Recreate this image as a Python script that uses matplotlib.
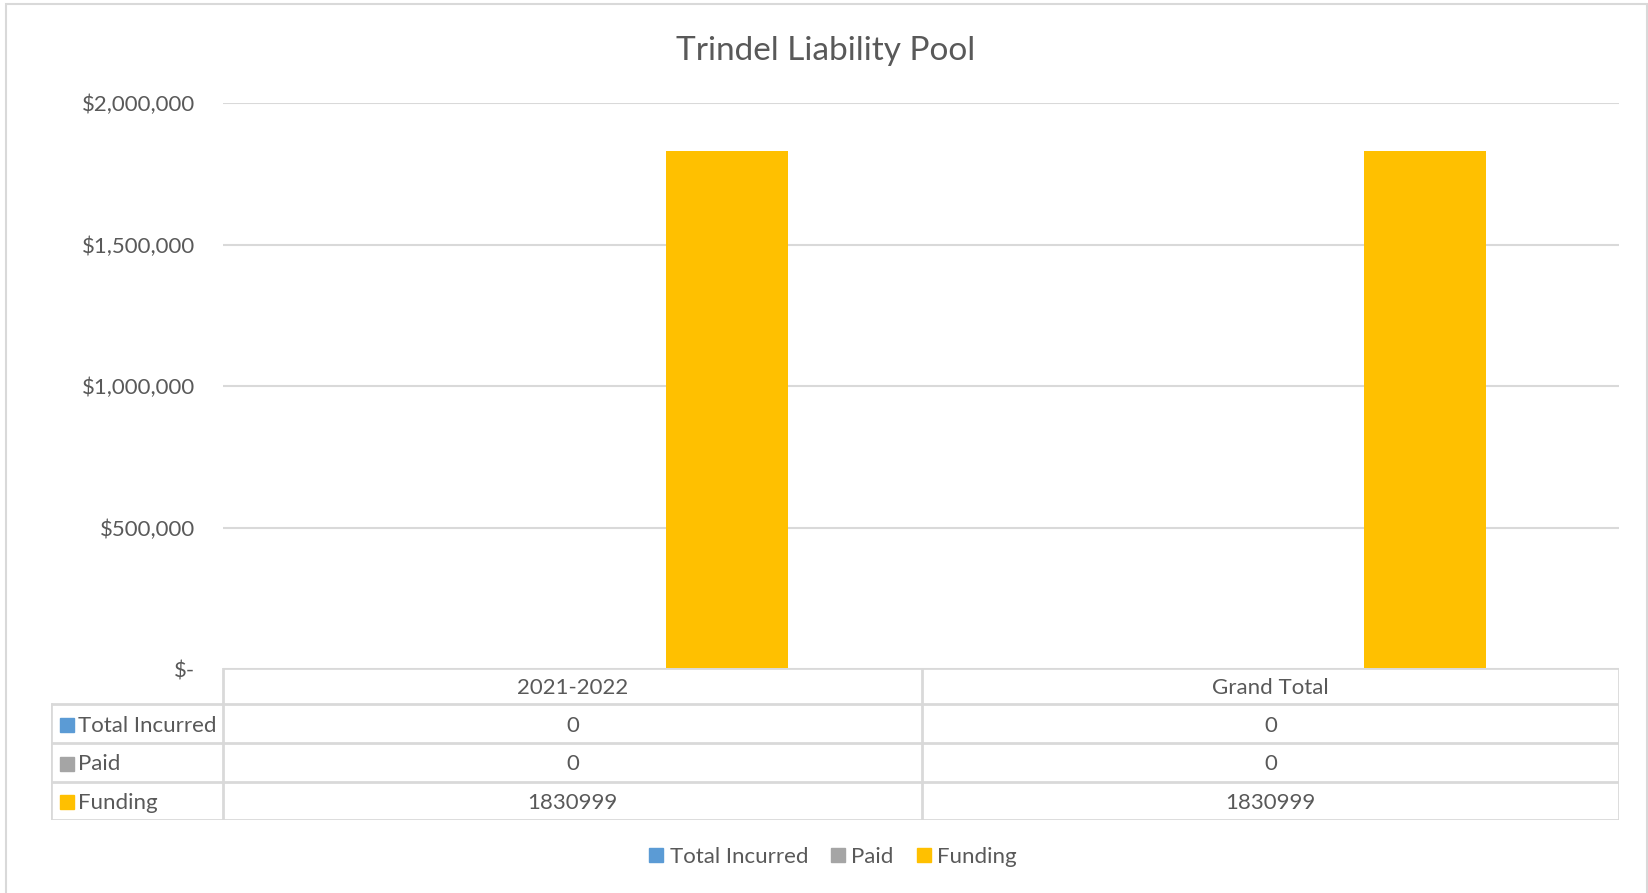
import matplotlib
matplotlib.use("Agg")
import matplotlib.pyplot as plt
from matplotlib.patches import Rectangle
from matplotlib.lines import Line2D
from matplotlib.ticker import FuncFormatter
import numpy as np

plt.rcParams['font.family'] = ['Lato', 'DejaVu Sans']

# Data
categories = ["2021-2022", "Grand Total"]
series_names = ["Total Incurred", "Paid", "Funding"]
total_incurred = [0, 0]
paid = [0, 0]
funding = [1830999, 1830999]
series_values = [total_incurred, paid, funding]
series_colors = ["#5B9BD5", "#A5A5A5", "#FFC000"]
y_ticks = [0, 500000, 1000000, 1500000, 2000000]

TEXT = "#595959"
GRID = "#D9D9D9"

W, H = 1648, 893
fig = plt.figure(figsize=(W / 100, H / 100), dpi=100)


def px(x0, y0, x1, y1):
    """Convert pixel box (top-left origin) into figure fraction rect."""
    return [x0 / W, 1 - y1 / H, (x1 - x0) / W, (y1 - y0) / H]


# Outer chart border
fig.patches.append(Rectangle((6 / W, -0.01), (1641 / W), 1 - 4 / H + 0.01,
                             transform=fig.transFigure, fill=False,
                             edgecolor=GRID, linewidth=1.5))

# Main plot area
ax = fig.add_axes(px(223, 103, 1619, 669))
x = np.arange(len(categories))
bar_w = 122 / 698
step = 155 / 698
for i, (vals, col) in enumerate(zip(series_values, series_colors)):
    ax.bar(x + (i - 1) * step, vals, width=bar_w, color=col, zorder=3)

ax.set_xlim(-0.5, len(categories) - 0.5)
ax.set_ylim(0, 2000000)
ax.set_yticks(y_ticks)


def money(v, pos):
    if v == 0:
        return "$-"
    return "${:,.0f}".format(v)


ax.yaxis.set_major_formatter(FuncFormatter(money))
ax.tick_params(axis='y', length=0, pad=20, labelsize=16, labelcolor=TEXT)
ax.set_xticks([])
ax.grid(axis='y', color=GRID, linewidth=1.5, zorder=0)
for s in ax.spines.values():
    s.set_visible(False)

# Title
fig.text(826 / W, 1 - 51 / H, "Trindel Liability Pool", ha='center', va='center',
         fontsize=24, color=TEXT)

# Data table below the plot
tax = fig.add_axes(px(51, 668, 1619, 820))
tax.set_xlim(51, 1619)
tax.set_ylim(820, 668)
tax.axis('off')
col_edges = [223, 922, 1619]
row_edges = [668, 704, 743, 782, 820]
lw = 2
# header row (category labels) – no left label cell
tax.plot([223, 1619], [668, 668], color=GRID, lw=lw, solid_capstyle='butt')
for ye in row_edges[1:]:
    tax.plot([51, 1619], [ye, ye], color=GRID, lw=lw, solid_capstyle='butt')
tax.plot([51, 51], [704, 820], color=GRID, lw=lw)
for xe in col_edges:
    tax.plot([xe, xe], [668, 820], color=GRID, lw=lw)

dy = 2  # nudge cell text slightly down from the exact centre
for j, cat in enumerate(categories):
    cx = (col_edges[j] + col_edges[j + 1]) / 2
    tax.text(cx, (row_edges[0] + row_edges[1]) / 2 + dy, cat, ha='center', va='center',
             fontsize=16, color=TEXT)
for i, (name, vals, col) in enumerate(zip(series_names, series_values, series_colors)):
    cy = (row_edges[i + 1] + row_edges[i + 2]) / 2
    tax.add_patch(Rectangle((60, cy - 6), 14, 14, color=col))
    tax.text(78, cy + dy, name, ha='left', va='center', fontsize=16, color=TEXT)
    for j, v in enumerate(vals):
        cx = (col_edges[j] + col_edges[j + 1]) / 2
        tax.text(cx, cy + dy, str(v), ha='center', va='center', fontsize=16, color=TEXT)

# Legend
handles = [Line2D([], [], marker='s', linestyle='none', markersize=10.5,
                  markerfacecolor=c, markeredgecolor=c) for c in series_colors]
fig.legend(handles, series_names, loc='center', bbox_to_anchor=(831 / W, 1 - 857 / H),
           ncol=3, frameon=False, fontsize=16, labelcolor=TEXT,
           handletextpad=0.1, columnspacing=0.85, handlelength=1.0)

fig.savefig("out.png", dpi=100, facecolor='white')
